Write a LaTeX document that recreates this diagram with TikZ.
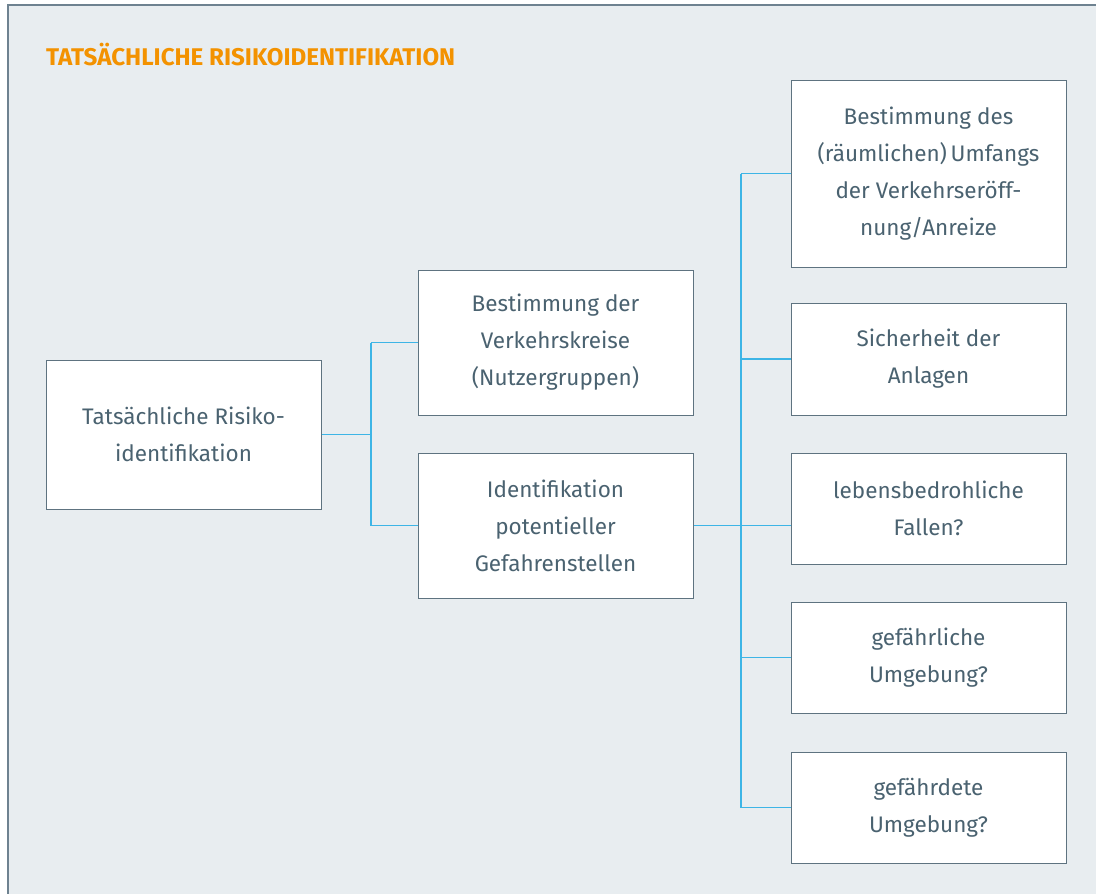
\documentclass[tikz,border=0pt]{standalone}
\usepackage{fontspec}
\setmainfont{Fira Sans}
\definecolor{bgc}{HTML}{E8EDF0}
\definecolor{framec}{HTML}{6E8290}
\definecolor{boxc}{HTML}{5E7380}
\definecolor{txtc}{HTML}{4A6270}
\definecolor{linec}{HTML}{3DB5E6}
\definecolor{titlec}{HTML}{F39200}
\begin{document}
\begin{tikzpicture}[x=1pt,y=-1pt,
  box/.style={draw=boxc,line width=1pt,fill=white,text=txtc,align=center,
    font=\fontsize{22.5}{37}\selectfont,inner sep=0pt},
  conn/.style={draw=linec,line width=1.2pt}]
\useasboundingbox (0,0) rectangle (1096,894);
\fill[white] (0,0) rectangle (1096,894);
\fill[bgc] (8,5) rectangle (1096,894);
\draw[framec,line width=1.5pt] (8,894) -- (8,5) -- (1096,5);
\node[anchor=west,text=titlec,font=\fontsize{21}{24}\selectfont\bfseries,inner sep=0pt] (title) at (46,55) {\resizebox{409pt}{!}{TATSÄCHLICHE RISIKOIDENTIFIKATION}};
% boxes
\node[box,minimum width=275pt,minimum height=149pt] (A) at (183.5,434.5) {Tatsächliche Risiko-\\identifikation};
\node[box,minimum width=275pt,minimum height=145pt] (B) at (555.5,342.5) {Bestimmung der\\Verkehrskreise\\(Nutzergruppen)};
\node[box,minimum width=275pt,minimum height=145pt] (C) at (555.5,525.5) {Identifikation\\potentieller\\Gefahrenstellen};
\node[box,minimum width=275pt,minimum height=187pt] (D1) at (928.5,173.5) {Bestimmung des\\(räumlichen)\,Umfangs\\der Verkehrseröff-\\nung/Anreize};
\node[box,minimum width=275pt,minimum height=112pt] (D2) at (928.5,359) {Sicherheit der\\Anlagen};
\node[box,minimum width=275pt,minimum height=111pt] (D3) at (928.5,508.5) {lebensbedrohliche\\Fallen?};
\node[box,minimum width=275pt,minimum height=111pt] (D4) at (928.5,657.5) {gefährliche\\Umgebung?};
\node[box,minimum width=275pt,minimum height=111pt] (D5) at (928.5,807.5) {gefährdete\\Umgebung?};
% connectors
\coordinate (j1) at (371,434.5);
\coordinate (j2) at (741,525.5);
\draw[conn] (A.east) -- (j1);
\draw[conn] (j1 |- B.west) -- (B.west);
\draw[conn] (j1 |- C.west) -- (C.west);
\draw[conn] (j1 |- B.west) -- (j1 |- C.west);
\draw[conn] (C.east) -- (C.east -| D3.west);
\draw[conn] (j2 |- D1.west) -- (j2 |- D5.west);
\draw[conn] (j2 |- D1.west) -- (D1.west);
\draw[conn] (j2 |- D2.west) -- (D2.west);
\draw[conn] (j2 |- D4.west) -- (D4.west);
\draw[conn] (j2 |- D5.west) -- (D5.west);
\end{tikzpicture}
\end{document}
